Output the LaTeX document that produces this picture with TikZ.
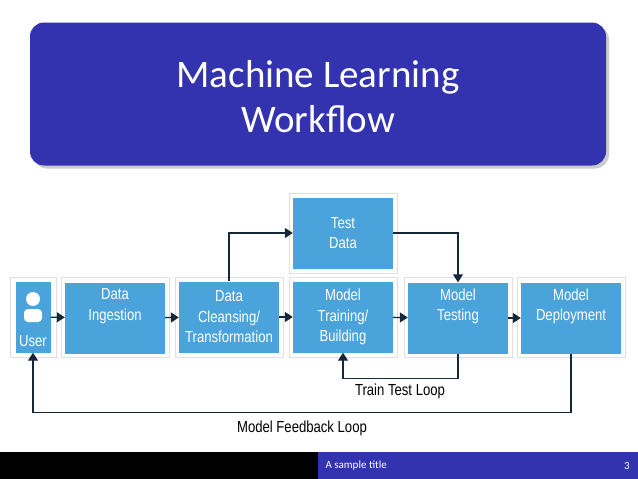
\documentclass[tikz,border=0pt]{standalone}
\usepackage{fontspec}
\setmainfont{Liberation Sans}
\newfontfamily\titlefont{Carlito}
\newfontfamily\narrowfont{Liberation Sans}[FakeStretch=0.82]
\usepackage{xcolor}
\usetikzlibrary{arrows.meta, positioning, shadows}
\definecolor{slideblue}{HTML}{3333B0}
\definecolor{stepblue}{HTML}{4AA3DB}
\definecolor{linedark}{HTML}{14283A}
\tikzset{
        stepbox/.style={rectangle, fill=stepblue, text=white, minimum width=100pt, minimum height=71pt, align=center, font=\narrowfont\fontsize{16}{20.5}\selectfont, inner sep=0pt},
        frame/.style={rectangle, draw=black!12, line width=0.8pt, fill=white, minimum width=108pt, minimum height=80pt},
        arrow/.style={-{Triangle[length=8pt,width=10pt]}, line width=1.4pt, draw=linedark},
        looplabel/.style={font=\narrowfont\fontsize{16}{18}\selectfont, text=black},
    }
\begin{document}
\begin{tikzpicture}[x=1pt, y=-1pt]
        \useasboundingbox (0,0) rectangle (638,479);

        % === TITLE ===
        \node[rectangle, rounded corners=14pt, fill=slideblue, minimum width=576pt, minimum height=143pt,
            drop shadow={shadow xshift=3pt, shadow yshift=-3pt, opacity=0.4}] (title) at (318,94) {};
        \node[text=white, align=center, font=\titlefont\fontsize{39}{45}\selectfont] (titletext) at (318,97) {Machine Learning\\Workflow};

        % === FRAMES ===
        \node[frame, minimum width=46pt] (fuser) at (33,317) {};
        \foreach \nm/\x in {fingest/115, fclean/229, ftrain/343, ftest/458, fdeploy/571}
            \node[frame] (\nm) at (\x,317) {};
        \node[frame] (ftestdata) at (343,233) {};

        % === STEPS ===
        \node[stepbox, minimum width=35pt] (user) at (33,317) {};
        \node[stepbox] (ingest) at (115,318) {Data\\Ingestion\\\strut};
        \node[stepbox] (clean) at (229,317) {Data\\Cleansing/\\Transformation};
        \node[stepbox] (train) at (343,317) {Model\\Training/\\Building};
        \node[stepbox] (testing) at (458,318) {Model\\Testing\\\strut};
        \node[stepbox] (deploy) at (571,318) {Model\\Deployment\\\strut};
        \node[stepbox] (testdata) at (343,233) {Test\\Data};

        % user icon
        \fill[white] (33,299) circle (7pt);
        \fill[white, rounded corners=4pt] (24,322) -- (24,309) -- (42,309) -- (42,322) -- cycle;
        \node[text=white, font=\narrowfont\fontsize{16}{18}\selectfont] (userlabel) at (33,341) {User};

        % === ARROWS ===
        \draw[arrow] (user) -- (ingest);
        \draw[arrow] (ingest) -- (clean);
        \draw[arrow] (clean) -- (train);
        \draw[arrow] (train) -- (testing);
        \draw[arrow] (testing) -- (deploy);
        \draw[arrow] (clean.north) |- (testdata.west);
        \draw[arrow] (testdata.east) -| (testing.north);
        \draw[arrow] (testing.south) -- ++(0,25) -| (train.south);
        \draw[arrow] (deploy.south) -- ++(0,59) -| (user.south);

        \node[looplabel] (ttl) at (400,391) {Train Test Loop};
        \node[looplabel] (mfl) at (302,428) {Model Feedback Loop};

        % === FOOTER ===
        \fill[black] (0,452) rectangle (318,479);
        \fill[slideblue] (318,452) rectangle (638,479);
        \node[anchor=west, text=white, font=\titlefont\fontsize{11}{12}\selectfont] (foottitle) at (322,465.5) {A sample title};
        \node[text=white, font=\titlefont\fontsize{11}{12}\selectfont] (pagenum) at (627,465.5) {3};
    \end{tikzpicture}
\end{document}
